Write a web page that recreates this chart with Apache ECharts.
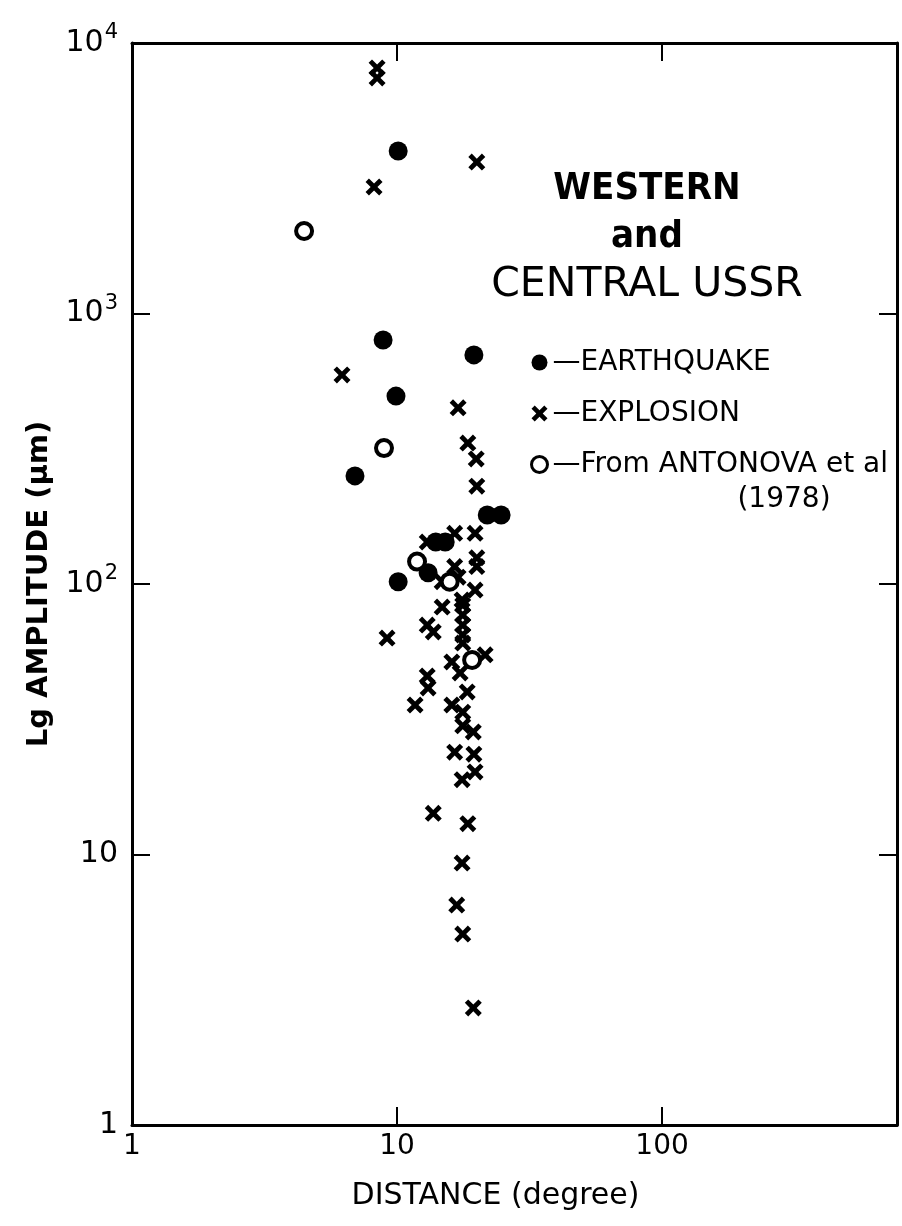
<!DOCTYPE html>
<html>
<head>
<meta charset="utf-8">
<script src="https://cdn.jsdelivr.net/npm/echarts@6/dist/echarts.min.js"></script>
<style>
html,body{margin:0;padding:0;background:#fff;}
#c{width:902px;height:1226px;}
</style>
</head>
<body>
<div id="c"></div>
<script>
// [distance (degree), Lg amplitude (um)]
const earthquake = [
  [10.1, 3990], [8.86, 798], [19.5, 703], [9.91, 495], [6.94, 251],
  [21.9, 180], [24.7, 180], [14.0, 143], [15.2, 143], [13.1, 110], [10.1, 102]
];
const explosion = [
  [8.41, 8090], [8.41, 7430], [8.19, 2935], [20.0, 3630], [6.20, 593],
  [17.0, 448], [18.5, 332], [19.9, 290], [20.0, 230],
  [16.5, 154], [19.7, 154], [13.0, 143], [20.0, 125], [16.5, 116], [20.0, 116],
  [14.8, 102], [17.0, 106], [19.7, 95], [14.8, 82.2], [17.6, 87.3],
  [17.7, 83.6], [17.7, 76.8], [17.7, 70.5], [17.7, 64.8], [17.7, 60.5],
  [13.0, 70.5], [13.7, 66.5], [9.17, 63.1], [21.5, 54.7], [16.1, 51.5],
  [17.3, 46.9], [13.0, 45.7], [13.1, 41.3], [18.4, 39.9], [11.7, 35.7],
  [16.1, 35.7], [17.7, 33.6], [17.7, 29.9], [19.4, 28.4], [16.5, 23.9],
  [19.5, 23.5], [19.7, 20.2], [17.6, 18.9], [13.7, 14.2], [18.5, 13.0],
  [17.6, 9.3], [16.8, 6.5], [17.7, 5.08], [19.4, 2.71]
];
const antonova = [
  [4.46, 2018], [8.93, 318], [11.9, 121], [15.8, 102], [19.2, 52.4]
];
const seriesNames = ['EARTHQUAKE', 'EXPLOSION', 'From ANTONOVA et al'];
const xTickLabels = {1: '1', 10: '10', 100: '100'};
const yTickLabels = {1: '1', 10: '10', 100: '10{s|2}', 1000: '10{s|3}', 10000: '10{s|4}'};
const titleLines = ['WESTERN', 'and', 'CENTRAL USSR'];
const yearNote = '(1978)';
const xName = 'DISTANCE (degree)';
const yName = 'Lg AMPLITUDE (\u03bcm)';

const FONT = "'DejaVu Sans', 'Liberation Sans', sans-serif";
const CFONT = "'DejaVu Sans Condensed', 'Liberation Sans Narrow', 'DejaVu Sans', sans-serif";
const CROSS = 'path://M2,0L5,3L8,0L10,2L7,5L10,8L8,10L5,7L2,10L0,8L3,5L0,2Z';

const chart = echarts.init(document.getElementById('c'), null, {renderer: 'canvas'});

const axisLine = {show: true, lineStyle: {color: '#000', width: 3}};
const axisTick = {show: true, inside: true, length: 18, lineStyle: {color: '#000', width: 2}};

const option = {
  backgroundColor: '#fff',
  animation: false,
  grid: {left: 132, top: 43, right: 5, bottom: 101, containLabel: false},
  legend: {
    orient: 'vertical',
    left: 530, top: 347,
    padding: 0,
    itemGap: 20,
    itemWidth: 16, itemHeight: 16,
    textStyle: {fontFamily: FONT, fontSize: 28, color: '#000', lineHeight: 31},
    formatter: function (n) { return '\u2014' + n; },
    data: [
      {name: seriesNames[0], icon: 'circle', itemStyle: {color: '#000', opacity: 1}},
      {name: seriesNames[1], icon: CROSS, itemStyle: {color: '#000', opacity: 1}},
      {name: seriesNames[2], icon: 'circle', itemStyle: {color: '#fff', borderColor: '#000', borderWidth: 3, opacity: 1}}
    ]
  },
  xAxis: [
    {
      type: 'log', logBase: 10, min: 1, max: 770, position: 'bottom',
      axisLine: axisLine, axisTick: axisTick, splitLine: {show: false}, minorTick: {show: false},
      axisLabel: {
        show: true, margin: 8, color: '#000', fontFamily: FONT, fontSize: 28, showMaxLabel: false,
        formatter: function (v) { return xTickLabels[Math.round(v)] || ''; }
      },
      name: xName, nameLocation: 'middle', nameGap: 56,
      nameTextStyle: {fontFamily: FONT, fontSize: 30, color: '#000', padding: [0, 38, 0, 0]}
    },
    {
      type: 'log', logBase: 10, min: 1, max: 770, position: 'top',
      axisLine: axisLine, axisTick: axisTick, splitLine: {show: false}, axisLabel: {show: false}
    }
  ],
  yAxis: [
    {
      type: 'log', logBase: 10, min: 1, max: 10000, position: 'left',
      axisLine: axisLine, axisTick: axisTick, splitLine: {show: false}, minorTick: {show: false},
      axisLabel: {
        show: true, margin: 14, color: '#000', fontFamily: FONT, fontSize: 30,
        formatter: function (v) { return yTickLabels[Math.round(v)] || ''; },
        rich: {s: {fontFamily: FONT, fontSize: 21, color: '#000', padding: [0, 0, 20, 1]}}
      },
      name: yName, nameLocation: 'middle', nameGap: 78, nameRotate: 90,
      nameTextStyle: {fontFamily: FONT, fontSize: 29, fontWeight: 'bold', color: '#000'}
    },
    {
      type: 'log', logBase: 10, min: 1, max: 10000, position: 'right',
      axisLine: axisLine, axisTick: axisTick, splitLine: {show: false}, axisLabel: {show: false}
    }
  ],
  series: [
    {
      name: seriesNames[0], type: 'scatter', xAxisIndex: 0, yAxisIndex: 0,
      data: earthquake, symbol: 'circle', symbolSize: 19,
      itemStyle: {color: '#000', opacity: 1}, z: 3
    },
    {
      name: seriesNames[1], type: 'scatter', xAxisIndex: 0, yAxisIndex: 0,
      data: explosion, symbol: CROSS, symbolSize: 17,
      itemStyle: {color: '#000', opacity: 1}, z: 2
    },
    {
      name: seriesNames[2], type: 'scatter', xAxisIndex: 0, yAxisIndex: 0,
      data: antonova, symbol: 'circle', symbolSize: 16,
      itemStyle: {color: '#fff', borderColor: '#000', borderWidth: 4, opacity: 1}, z: 4
    }
  ],
  graphic: [
    {type: 'text', x: 647, y: 189, style: {text: titleLines[0], font: "bold 38px " + CFONT, fill: '#000', align: 'center', verticalAlign: 'middle'}},
    {type: 'text', x: 647, y: 237, style: {text: titleLines[1], font: "bold 38px " + CFONT, fill: '#000', align: 'center', verticalAlign: 'middle'}},
    {type: 'text', x: 647, y: 285, style: {text: titleLines[2], font: "41px " + FONT, fill: '#000', align: 'center', verticalAlign: 'middle'}},
    {type: 'text', x: 784, y: 500, style: {text: yearNote, font: "28px " + FONT, fill: '#000', align: 'center', verticalAlign: 'middle'}}
  ]
};
chart.setOption(option);
</script>
</body>
</html>
